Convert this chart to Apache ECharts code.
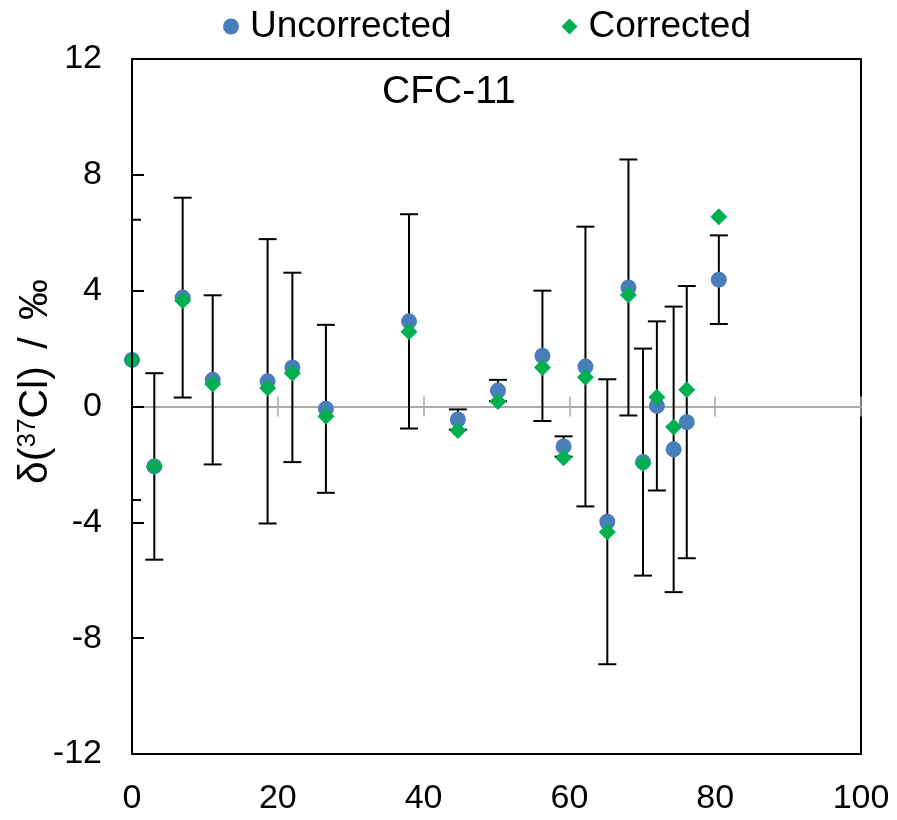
<!DOCTYPE html>
<html>
<head>
<meta charset="utf-8">
<script src="https://cdn.jsdelivr.net/npm/echarts@6/dist/echarts.min.js"></script>
<style>
  html, body { margin: 0; padding: 0; background: #fff; }
  #chart { width: 897px; height: 820px; }
</style>
</head>
<body>
<div id="chart"></div>
<script>
// values
const xValues = [0.0, 3.06, 6.95, 11.07, 18.6, 22.0, 26.6, 38.0, 44.7, 50.2, 56.3, 59.2, 62.2, 65.2, 68.1, 70.1, 72.0, 74.3, 76.1, 80.5]
const uncorrected = [1.61, -2.07, 3.76, 0.92, 0.87, 1.35, -0.08, 2.94, -0.45, 0.55, 1.75, -1.38, 1.38, -3.98, 4.11, -1.92, 0.02, -1.48, -0.54, 4.38]
const corrected = [1.61, -2.07, 3.65, 0.78, 0.64, 1.15, -0.34, 2.58, -0.83, 0.17, 1.35, -1.77, 1.01, -4.33, 3.85, -1.97, 0.32, -0.71, 0.58, 6.55]
const errors = [4.84, 3.22, 3.45, 2.92, 4.91, 3.27, 2.90, 3.70, 0.35, 0.37, 2.25, 0.35, 4.83, 4.92, 4.42, 3.92, 2.92, 4.93, 4.70, 1.53]
const xTicks = [0, 20, 40, 60, 80, 100]
const yTicks = [-12, -8, -4, 0, 4, 8, 12]

const font = '"Liberation Sans", Arial, sans-serif'
const blue = '#4a7ebb'
const green = '#00b050'

const chart = echarts.init(document.getElementById('chart'))

const xMin = xTicks[0], xMax = xTicks[xTicks.length - 1], xStep = xTicks[1] - xTicks[0]
const yMin = yTicks[0], yMax = yTicks[yTicks.length - 1], yStep = yTicks[1] - yTicks[0]

const gridBox = { left: 132, right: 36, top: 59, bottom: 66, containLabel: false, outerBoundsMode: 'none' }

// gray axis through y = 0, one per grid so the ticks cross the line
const zeroAxis = (grid, pos) => ({
  type: 'value', min: xMin, max: xMax, interval: xStep,
  gridIndex: grid,
  position: pos,
  axisLine: { onZero: true, lineStyle: { color: '#a6a6a6', width: 1.5 } },
  axisTick: { show: true, inside: false, length: 10, lineStyle: { color: '#a6a6a6', width: 1.5 } },
  axisLabel: { show: false },
  splitLine: { show: false }
})

const option = {
  animation: false,
  backgroundColor: '#fff',
  textStyle: { fontFamily: font },
  title: {
    text: 'CFC-11',
    left: 377, top: 68,
    textStyle: { fontFamily: font, fontSize: 39, fontWeight: 'normal', color: '#000' }
  },
  legend: {
    data: ['Uncorrected', 'Corrected'],
    left: 218, top: 3,
    itemWidth: 16, itemHeight: 16, itemGap: 110,
    textStyle: { fontFamily: font, fontSize: 37, color: '#000', padding: [0, 0, 0, 6] }
  },
  grid: [
    Object.assign({ show: true, borderColor: '#000', borderWidth: 2 }, gridBox),
    Object.assign({}, gridBox)
  ],
  xAxis: [
    {
      type: 'value', min: xMin, max: xMax, interval: xStep,
      gridIndex: 0,
      position: 'bottom',
      axisLine: { onZero: false, lineStyle: { color: '#000', width: 2 } },
      axisTick: { show: false },
      axisLabel: { color: '#000', fontSize: 34, fontFamily: font, margin: 28 },
      splitLine: { show: false }
    },
    zeroAxis(0, 'top'),
    zeroAxis(1, 'bottom')
  ],
  yAxis: [
    {
      type: 'value', min: yMin, max: yMax, interval: yStep,
      gridIndex: 0,
      name: '{a|δ(}{s|37}{a|Cl)}{g| / }{a|‰}',
      nameLocation: 'middle', nameRotate: 90, nameGap: 76,
      nameMoveOverlap: false,
      nameTextStyle: {
        padding: [0, 0, 0, 50],
        rich: {
          a: { fontFamily: font, fontSize: 41, color: '#000' },
          g: { fontFamily: font, fontSize: 41, color: '#000', padding: [0, 6, 0, 6] },
          s: { fontFamily: font, fontSize: 26, color: '#000', verticalAlign: 'top' }
        }
      },
      axisLine: { lineStyle: { color: '#000', width: 2 } },
      axisTick: { inside: true, length: 12, lineStyle: { color: '#000', width: 2 } },
      axisLabel: { color: '#000', fontSize: 34, fontFamily: font, margin: 30 },
      splitLine: { show: false },
      z: 5
    },
    {
      type: 'value', min: yMin, max: yMax, interval: yStep,
      gridIndex: 1,
      show: false
    }
  ],
  series: [
    {
      name: 'err',
      type: 'custom',
      xAxisIndex: 0,
      yAxisIndex: 0,
      data: xValues.map((x, i) => [x, uncorrected[i], errors[i]]),
      encode: { x: 0, y: 1 },
      z: 2,
      renderItem: (params, api) => {
        const x = api.value(0), y = api.value(1), e = api.value(2)
        const top = api.coord([x, y + e])
        const bot = api.coord([x, y - e])
        const left = params.coordSys.x
        const hw = 9
        const st = { stroke: '#000', lineWidth: 2 }
        const cap = (p) => ({
          type: 'line',
          shape: { x1: Math.max(left, p[0] - hw), y1: p[1], x2: p[0] + hw, y2: p[1] },
          style: st
        })
        return {
          type: 'group',
          children: [
            { type: 'line', shape: { x1: top[0], y1: top[1], x2: bot[0], y2: bot[1] }, style: st },
            cap(top),
            cap(bot)
          ]
        }
      }
    },
    {
      name: 'Uncorrected',
      type: 'scatter',
      xAxisIndex: 0,
      yAxisIndex: 0,
      symbol: 'circle',
      symbolSize: 16,
      itemStyle: { color: blue, opacity: 1 },
      z: 3,
      data: xValues.map((x, i) => [x, uncorrected[i]])
    },
    {
      name: 'Corrected',
      type: 'scatter',
      xAxisIndex: 0,
      yAxisIndex: 0,
      symbol: 'diamond',
      symbolSize: [17, 17],
      itemStyle: { color: green, opacity: 1 },
      z: 4,
      data: xValues.map((x, i) => [x, corrected[i]])
    }
  ]
}

chart.setOption(option)
</script>
</body>
</html>
